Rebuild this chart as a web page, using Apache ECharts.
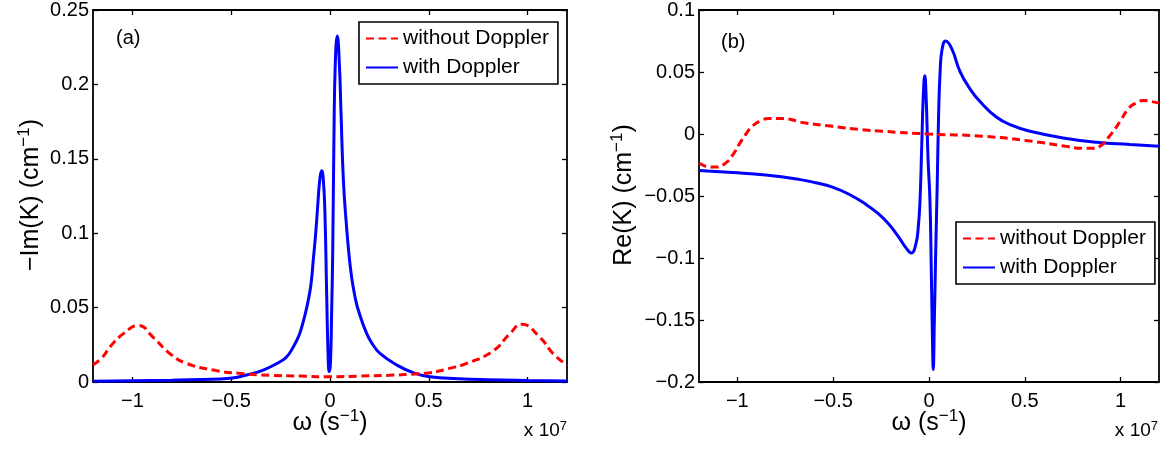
<!DOCTYPE html>
<html><head><meta charset="utf-8">
<script src="https://cdn.jsdelivr.net/npm/echarts@6/dist/echarts.min.js"></script>
<style>html,body{margin:0;padding:0;background:#fff}#c{width:1166px;height:450px}</style>
</head><body><div id="c"></div>
<script>
// ---- data (omega in units of 1e7 s^-1) ----
const xTicks = [-1, -0.5, 0, 0.5, 1];
const xTickLabels = ['\u22121', '\u22120.5', '0', '0.5', '1'];
const yTicksA = [0, 0.05, 0.1, 0.15, 0.2, 0.25];
const yTickLabelsA = ['0', '0.05', '0.1', '0.15', '0.2', '0.25'];
const yTicksB = [-0.2, -0.15, -0.1, -0.05, 0, 0.05, 0.1];
const yTickLabelsB = ['\u22120.2', '\u22120.15', '\u22120.1', '\u22120.05', '0', '0.05', '0.1'];
const seriesNames = ['without Doppler', 'with Doppler'];

// panel (a): -Im(K)
const imWithoutDoppler = [
  [-1.2, 0.0114], [-1.15, 0.017], [-1.114, 0.0236], [-1.046, 0.0325], [-0.97, 0.038],
  [-0.895, 0.030], [-0.81, 0.019], [-0.726, 0.0125], [-0.59, 0.008], [-0.456, 0.0058],
  [-0.3, 0.0045], [-0.15, 0.004], [0, 0.0035], [0.15, 0.004], [0.3, 0.0045],
  [0.45, 0.0056], [0.506, 0.0062], [0.6, 0.009], [0.692, 0.0125], [0.827, 0.021],
  [0.911, 0.0325], [0.970, 0.0388], [1.063, 0.030], [1.13, 0.019], [1.2, 0.0114]
];
const imWithDoppler = [
  [-1.2, 0.0005], [-1.0, 0.0008], [-0.8, 0.0012], [-0.65, 0.0017], [-0.506, 0.0025],
  [-0.422, 0.0047], [-0.338, 0.008], [-0.253, 0.0136], [-0.219, 0.0169], [-0.186, 0.0236],
  [-0.160, 0.0303], [-0.143, 0.037], [-0.127, 0.0448], [-0.110, 0.055], [-0.096, 0.066],
  [-0.085, 0.0816], [-0.073, 0.099], [-0.064, 0.115], [-0.051, 0.137], [-0.042, 0.142],
  [-0.034, 0.136], [-0.026, 0.115], [-0.017, 0.06], [-0.010, 0.02], [-0.004, 0.007],
  [0.002, 0.012], [0.008, 0.045], [0.014, 0.09], [0.020, 0.165], [0.027, 0.215],
  [0.037, 0.2326], [0.047, 0.215], [0.056, 0.18], [0.068, 0.135], [0.084, 0.104],
  [0.096, 0.086], [0.110, 0.070], [0.127, 0.057], [0.144, 0.048], [0.186, 0.0325],
  [0.219, 0.0247], [0.253, 0.0192], [0.338, 0.0114], [0.422, 0.0062], [0.506, 0.0035],
  [0.65, 0.0022], [0.8, 0.0015], [1.0, 0.001], [1.2, 0.0007]
];
// panel (b): Re(K)
const reWithoutDoppler = [
  [-1.2, -0.0233], [-1.15, -0.0265], [-1.113, -0.0267], [-1.06, -0.0233], [-1.02, -0.016],
  [-0.991, -0.0085], [-0.955, 0.000], [-0.922, 0.0062], [-0.88, 0.0105], [-0.835, 0.0124],
  [-0.765, 0.0124], [-0.65, 0.009], [-0.504, 0.0062], [-0.35, 0.0035], [-0.244, 0.0022],
  [0.0, 0.0], [0.278, -0.0018], [0.539, -0.0059], [0.713, -0.0099], [0.80, -0.0115],
  [0.857, -0.0115], [0.904, -0.0085], [0.94, -0.002], [0.974, 0.0048], [1.0, 0.011],
  [1.043, 0.0209], [1.08, 0.025], [1.118, 0.027], [1.16, 0.0262], [1.2, 0.0249]
];
const reWithDoppler = [
  [-1.2, -0.0294], [-1.026, -0.031], [-0.852, -0.0331], [-0.678, -0.0366], [-0.591, -0.0393],
  [-0.504, -0.0428], [-0.417, -0.0486], [-0.330, -0.0567], [-0.261, -0.0647], [-0.209, -0.0727],
  [-0.157, -0.0834], [-0.122, -0.0914], [-0.092, -0.0960], [-0.069, -0.089], [-0.056, -0.075],
  [-0.047, -0.054], [-0.038, -0.010], [-0.030, 0.030], [-0.022, 0.047], [-0.015, 0.030],
  [-0.005, -0.02], [0.005, -0.054], [0.012, -0.11], [0.018, -0.165], [0.022, -0.190],
  [0.028, -0.15], [0.035, -0.095], [0.043, -0.040], [0.050, 0.015], [0.058, 0.050],
  [0.068, 0.068], [0.087, 0.0749], [0.118, 0.069], [0.162, 0.0503], [0.214, 0.0364],
  [0.266, 0.0262], [0.353, 0.0135], [0.440, 0.0065], [0.527, 0.0022], [0.70, -0.0032],
  [0.875, -0.0067], [1.049, -0.0085], [1.2, -0.0099]
];

// ---- chart ----
const FONT = '"Liberation Sans", Arial, Helvetica, sans-serif';
const TICK_FS = 20;
const TITLE_FS = 25;
const chart = echarts.init(document.getElementById('c'), null, {renderer: 'canvas'});

function labelFor(ticks, labels) {
  return function (v) {
    for (let i = 0; i < ticks.length; i++) if (Math.abs(ticks[i] - v) < 1e-9) return labels[i];
    return '';
  };
}
function xAxis(grid, pos, show) {
  return {
    type: 'value', gridIndex: grid, position: pos, min: -1.2, max: 1.2,
    axisLine: {show: true, onZero: false, lineStyle: {color: '#000', width: 1.8}},
    axisTick: {show: true, inside: true, length: 5, customValues: xTicks, lineStyle: {color: '#000', width: 1.3}},
    axisLabel: {show: show, customValues: xTicks, formatter: labelFor(xTicks, xTickLabels),
      color: '#000', fontFamily: FONT, fontSize: TICK_FS, margin: 9},
    splitLine: {show: false}
  };
}
function yAxis(grid, pos, show, min, max, ticks, labels) {
  return {
    type: 'value', gridIndex: grid, position: pos, min: min, max: max,
    axisLine: {show: true, onZero: false, lineStyle: {color: '#000', width: 1.8}},
    axisTick: {show: true, inside: true, length: 5, customValues: ticks, lineStyle: {color: '#000', width: 1.3}},
    axisLabel: {show: show, customValues: ticks, formatter: labelFor(ticks, labels),
      color: '#000', fontFamily: FONT, fontSize: TICK_FS, margin: 4},
    splitLine: {show: false}
  };
}
const redStyle = {color: '#ff0000', width: 3, type: [8, 4.5]};
const blueStyle = {color: '#0000ff', width: 3, type: 'solid'};
function line(name, data, xi, yi, style) {
  return {
    name: name, type: 'line', xAxisIndex: xi, yAxisIndex: yi, data: data,
    showSymbol: false, symbol: 'none', smooth: 0.5, animation: false,
    lineStyle: style, itemStyle: {color: style.color}, clip: true, z: name === seriesNames[1] ? 3 : 4
  };
}
function legend(left, top) {
  return {
    data: seriesNames, left: left, top: top, orient: 'vertical', selectedMode: false,
    backgroundColor: '#fff', borderColor: '#000', borderWidth: 1.6, borderRadius: 0,
    padding: [6, 9, 6, 6], itemGap: 8, itemWidth: 32, itemHeight: 14,
    itemStyle: {opacity: 0},
    textStyle: {color: '#000', fontFamily: FONT, fontSize: 21}
  };
}
const supRich = {
  n: {fontFamily: FONT, fontSize: TITLE_FS, color: '#000'},
  s: {fontFamily: FONT, fontSize: 17, color: '#000', padding: [0, 0, 14, 0]}
};
const supRichSmall = {
  n: {fontFamily: FONT, fontSize: 19, color: '#000'},
  s: {fontFamily: FONT, fontSize: 13, color: '#000', padding: [0, 0, 10, 0]}
};
function txt(x, y, text, rich, opts) {
  return Object.assign({
    type: 'text', x: x, y: y, silent: true,
    style: {text: text, rich: rich, align: 'center', verticalAlign: 'middle', fill: '#000'}
  }, opts || {});
}

chart.setOption({
  backgroundColor: '#fff',
  animation: false,
  grid: [
    {left: 93, top: 8, width: 474, height: 374},
    {left: 699, top: 8, width: 460, height: 374}
  ],
  xAxis: [xAxis(0, 'bottom', true), xAxis(0, 'top', false), xAxis(1, 'bottom', true), xAxis(1, 'top', false)],
  yAxis: [
    yAxis(0, 'left', true, 0, 0.25, yTicksA, yTickLabelsA),
    yAxis(0, 'right', false, 0, 0.25, yTicksA, yTickLabelsA),
    yAxis(1, 'left', true, -0.2, 0.1, yTicksB, yTickLabelsB),
    yAxis(1, 'right', false, -0.2, 0.1, yTicksB, yTickLabelsB)
  ],
  legend: [legend(359, 22), legend(956, 222)],
  series: [
    line(seriesNames[0], imWithoutDoppler, 0, 0, redStyle),
    line(seriesNames[1], imWithDoppler, 0, 0, blueStyle),
    line(seriesNames[0], reWithoutDoppler, 2, 2, redStyle),
    line(seriesNames[1], reWithDoppler, 2, 2, blueStyle)
  ],
  graphic: [
    {type: 'text', x: 116, y: 38, silent: true, style: {text: '(a)', font: '20px ' + FONT, fill: '#000', verticalAlign: 'middle'}},
    {type: 'text', x: 721, y: 42, silent: true, style: {text: '(b)', font: '20px ' + FONT, fill: '#000', verticalAlign: 'middle'}},
    txt(31, 195, '{n|\u2212Im(K) (cm}{s|\u22121}{n|)}', supRich, {rotation: Math.PI / 2}),
    txt(624, 195, '{n|Re(K) (cm}{s|\u22121}{n|)}', supRich, {rotation: Math.PI / 2}),
    txt(330, 423, '{n|\u03c9 (s}{s|\u22121}{n|)}', supRich),
    txt(929, 423, '{n|\u03c9 (s}{s|\u22121}{n|)}', supRich),
    {type: 'text', x: 567, y: 431, silent: true, style: {text: '{n|x 10}{s|7}', rich: supRichSmall, align: 'right', verticalAlign: 'middle', fill: '#000'}},
    {type: 'text', x: 1158, y: 431, silent: true, style: {text: '{n|x 10}{s|7}', rich: supRichSmall, align: 'right', verticalAlign: 'middle', fill: '#000'}}
  ]
});
</script>
</body></html>
